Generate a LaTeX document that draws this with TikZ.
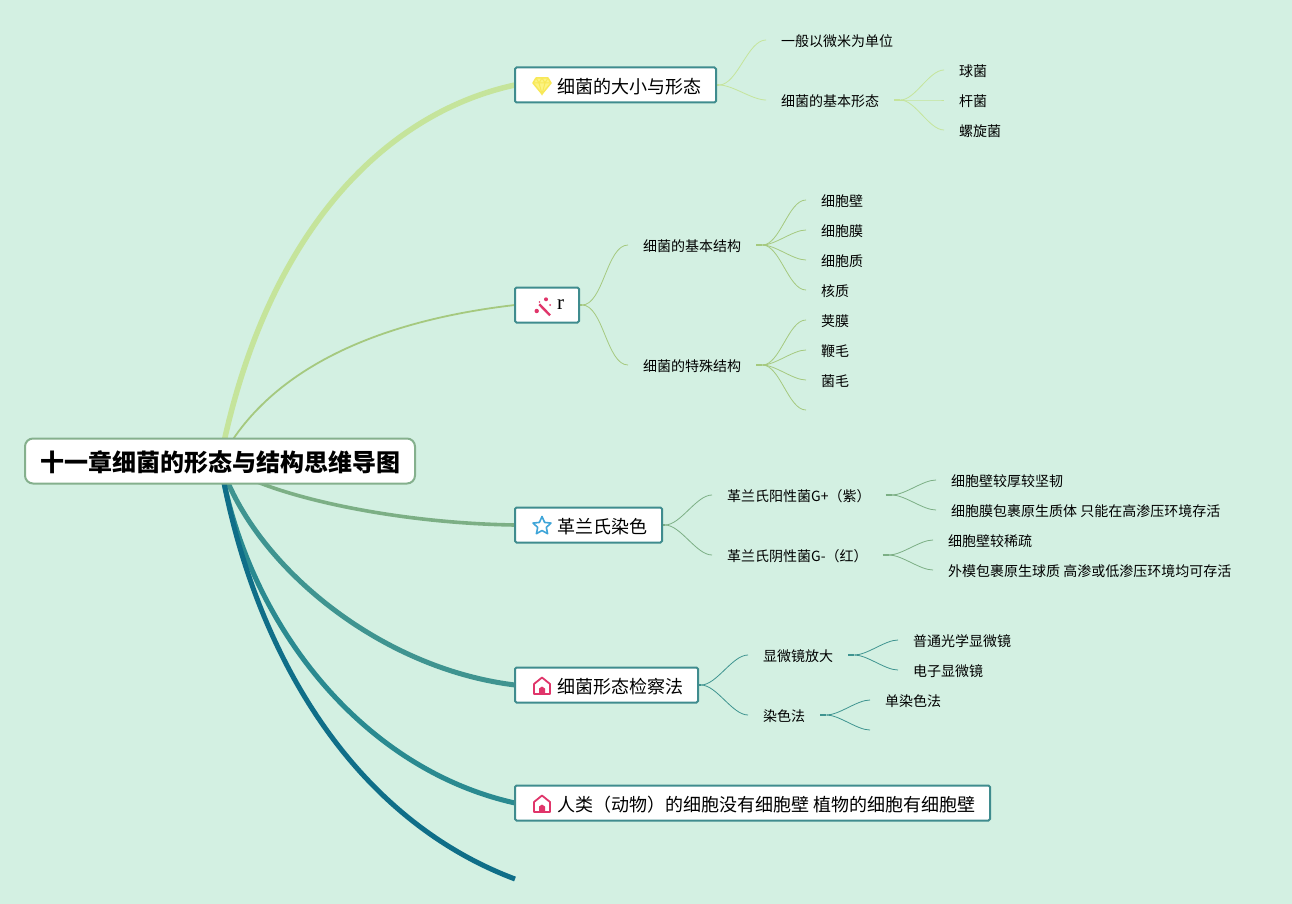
\documentclass[tikz,border=0pt]{standalone}
\usepackage{fontspec}
\setmainfont{Noto Sans CJK SC}
\newfontfamily\serifr{Liberation Serif}
\pgfdeclarelayer{bgl}
\pgfdeclarelayer{conn}
\pgfsetlayers{bgl,conn,main}
\definecolor{bgc}{RGB}{211,240,226}
\definecolor{bordc}{RGB}{63,140,142}
\definecolor{rootc}{RGB}{133,176,141}
\definecolor{ca}{RGB}{197,228,155}
\definecolor{cb}{RGB}{165,201,127}
\definecolor{cc}{RGB}{124,175,133}
\definecolor{cd}{RGB}{63,148,144}
\definecolor{ce}{RGB}{42,138,144}
\definecolor{cf}{RGB}{15,110,136}
\definecolor{pinkc}{RGB}{224,53,106}
\definecolor{starc}{RGB}{63,165,216}
\definecolor{gemc}{RGB}{248,232,88}
\definecolor{gemf}{RGB}{252,243,130}
\tikzset{
  rootbox/.style={draw=rootc,fill=white,line width=2pt,outer sep=0pt,rounded corners=8pt,minimum width=390pt,minimum height=45pt,inner sep=0pt,font=\fontsize{24}{24}\selectfont\bfseries,text height=22pt,text depth=2pt},
  mainbox/.style={draw=bordc,fill=white,line width=2pt,outer sep=0pt,rounded corners=1.5pt,anchor=west,inner xsep=0pt,inner ysep=0pt,minimum height=35pt,font=\fontsize{18}{18}\selectfont,text height=17.3pt,text depth=0.7pt},
  leaf/.style={anchor=west,inner xsep=15pt,inner ysep=0pt,font=\fontsize{14}{14}\selectfont,text height=13.8pt,text depth=0.2pt},
  branch/.style={line width=#1,line cap=butt},
  twig/.style={draw=#1,line width=0.8pt},
  stub/.style={draw=#1,line width=1.2pt},
  gem/.pic={
    \draw[draw=gemc,fill=gemf,line width=1.5pt,line join=round] (-6,-8)--(6,-8)--(9,-3)--(0,8)--(-9,-3)--cycle;
    \draw[draw=gemc,line width=1pt] (-9,-3)--(9,-3) (-3,-3)--(0,8)--(3,-3) (-6,-8)--(-3,-3)--(0,-8)--(3,-3)--(6,-8);
  },
  starico/.pic={
    \draw[draw=starc,line width=1.6pt,line join=round] (0,-9.5)--(2.6,-3.6)--(9,-2.9)--(4.3,1.4)--(5.6,7.7)--(0,4.5)--(-5.6,7.7)--(-4.3,1.4)--(-9,-2.9)--(-2.6,-3.6)--cycle;
  },
  houseico/.pic={
    \draw[draw=pinkc,line width=1.8pt,line join=round] (0,-8.5)--(8,-2)--(8,8)--(-8,8)--(-8,-2)--cycle;
    \fill[pinkc] (-3,8)--(-3,2.5)--(0,0.5)--(3,2.5)--(3,8)--cycle;
  },
  wandico/.pic={
    \draw[draw=pinkc,line width=2.4pt] (-2.7,-1.7)--(8,9.3);
    \fill[pinkc] (-5.3,5) circle (2.2) (4,-6.7) circle (2) (8,-1) circle (1) (-2.5,-4) circle (0.8);
  }
}
\newcommand\linkto[4]{%
  \draw[stub=#1] (#3.east) -- ++(#2,0) coordinate (tmpj);
  \draw[twig=#1] (tmpj) to[out=0,in=180,looseness=0.72] (#4.west);}
\begin{document}
\begin{tikzpicture}[x=1pt,y=-1pt]
\useasboundingbox (0,0) rectangle (1292,904);
\begin{pgfonlayer}{bgl}
\fill[bgc] (0,0) rectangle (1292,904);
\end{pgfonlayer}

\node[rootbox] (root) at (220,461) {十一章细菌的形态与结构思维导图};

\node[mainbox] (n1) at (515,85) {\hspace*{42pt}细菌的大小与形态\hspace*{15pt}};
\node[mainbox] (n2) at (515,305) {\hspace*{42pt}\raisebox{3.7pt}{\fontsize{21}{21}\selectfont\serifr r}\hspace*{15pt}};
\node[mainbox] (n3) at (515,525) {\hspace*{42pt}革兰氏染色\hspace*{15pt}};
\node[mainbox] (n4) at (515,685) {\hspace*{42pt}细菌形态检察法\hspace*{15pt}};
\node[mainbox] (n5) at (515,803) {\hspace*{42pt}人类（动物）的细胞没有细胞壁 植物的细胞有细胞壁\hspace*{15pt}};
\coordinate (n6) at (515,879);

\pic at ([xshift=27pt,yshift=-1pt]n1.west) {gem};
\pic at ([xshift=27pt,yshift=-1pt]n2.west) {wandico};
\pic at ([xshift=27pt,yshift=-1pt]n3.west) {starico};
\pic at ([xshift=27pt,yshift=-1pt]n4.west) {houseico};
\pic at ([xshift=27pt,yshift=-1pt]n5.west) {houseico};

\node[leaf] (a1) at (766,40) {一般以微米为单位};
\node[leaf] (a2) at (766,100) {细菌的基本形态};
\node[leaf] (a21) at (944,70) {球菌};
\node[leaf] (a22) at (944,100) {杆菌};
\node[leaf] (a23) at (944,130) {螺旋菌};

\node[leaf] (b1) at (628,245) {细菌的基本结构};
\node[leaf] (b2) at (628,365) {细菌的特殊结构};
\node[leaf] (b11) at (806,200) {细胞壁};
\node[leaf] (b12) at (806,230) {细胞膜};
\node[leaf] (b13) at (806,260) {细胞质};
\node[leaf] (b14) at (806,290) {核质};
\node[leaf] (b21) at (806,320) {荚膜};
\node[leaf] (b22) at (806,350) {鞭毛};
\node[leaf] (b23) at (806,380) {菌毛};
\node[leaf] (b24) at (806,410) {};

\node[leaf] (c1) at (712,495) {革兰氏阳性菌G+（紫）};
\node[leaf] (c2) at (712,555) {革兰氏阴性菌G-（红）};
\node[leaf] (c11) at (936,480) {细胞壁较厚较坚韧};
\node[leaf] (c12) at (936,510) {细胞膜包裹原生质体 只能在高渗压环境存活};
\node[leaf] (c21) at (933,540) {细胞壁较稀疏};
\node[leaf] (c22) at (933,570) {外模包裹原生球质 高渗或低渗压环境均可存活};

\node[leaf] (d1) at (748,655) {显微镜放大};
\node[leaf] (d2) at (748,715) {染色法};
\node[leaf] (d11) at (898,640) {普通光学显微镜};
\node[leaf] (d12) at (898,670) {电子显微镜};
\node[leaf] (d21) at (870,700) {单染色法};
\node[leaf] (d22) at (870,730) {};

\begin{pgfonlayer}{conn}
\draw[branch=5.5pt,ca] (root.center) .. controls (265,232) and (385,113) .. (n1.west);
\draw[branch=1.8pt,cb] (root.center) .. controls (270,365) and (385,320) .. (n2.west);
\draw[branch=3.6pt,cc] (root.center) .. controls (250,490) and (380,523) .. (n3.west);
\draw[branch=5pt,cd] (root.center) .. controls (250,560) and (375,668) .. (n4.west);
\draw[branch=5pt,ce] (root.center) .. controls (245,618) and (358,768) .. (n5.west);
\draw[branch=5pt,cf] (root.center) .. controls (250,640) and (345,815) .. (n6);
\linkto{ca}{3}{n1}{a1}
\linkto{ca}{3}{n1}{a2}
\linkto{ca}{6}{a2}{a21}
\linkto{ca}{6}{a2}{a22}
\linkto{ca}{6}{a2}{a23}
\linkto{cb}{3}{n2}{b1}
\linkto{cb}{3}{n2}{b2}
\linkto{cb}{6}{b1}{b11}
\linkto{cb}{6}{b1}{b12}
\linkto{cb}{6}{b1}{b13}
\linkto{cb}{6}{b1}{b14}
\linkto{cb}{6}{b2}{b21}
\linkto{cb}{6}{b2}{b22}
\linkto{cb}{6}{b2}{b23}
\linkto{cb}{6}{b2}{b24}
\linkto{cc}{3}{n3}{c1}
\linkto{cc}{3}{n3}{c2}
\linkto{cc}{6}{c1}{c11}
\linkto{cc}{6}{c1}{c12}
\linkto{cc}{6}{c2}{c21}
\linkto{cc}{6}{c2}{c22}
\linkto{cd}{3}{n4}{d1}
\linkto{cd}{3}{n4}{d2}
\linkto{cd}{6}{d1}{d11}
\linkto{cd}{6}{d1}{d12}
\linkto{cd}{6}{d2}{d21}
\linkto{cd}{6}{d2}{d22}
\end{pgfonlayer}
\end{tikzpicture}
\end{document}
